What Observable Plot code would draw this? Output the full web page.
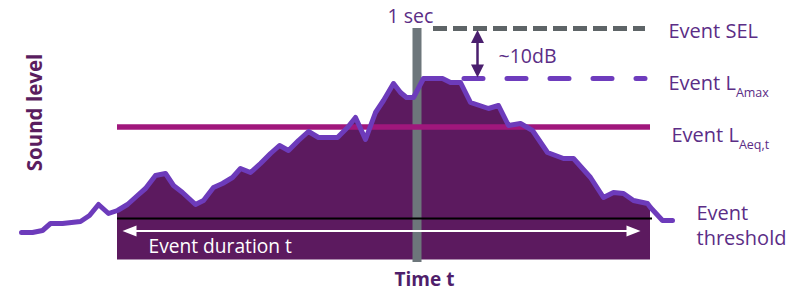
<!DOCTYPE html>
<html>
<head>
<meta charset="utf-8">
<script src="https://cdn.jsdelivr.net/npm/d3@7"></script>
<script src="https://cdn.jsdelivr.net/npm/@observablehq/plot@0.6"></script>
<style>
  html, body { margin: 0; padding: 0; background: #fff; }
  #chart svg { display: block; }
</style>
</head>
<body>
<div id="chart"></div>
<script>
// Sound level trace (time units, level in dB)
const curveTime  = [21, 32, 42, 50, 62, 80, 89, 98, 108, 117, 127, 137, 145, 155, 165, 173, 182, 195, 203, 213, 222, 232, 240, 250, 260, 270, 279, 288, 298, 308, 318, 337, 347, 355, 365, 375, 383, 393, 400, 406, 413, 423, 442, 450, 460, 470, 488, 498, 508, 520, 532, 547, 563, 573, 590, 603, 613, 623, 633, 647, 650, 662, 672];
const curveLevel = [12.2, 12.2, 12.6, 14.0, 14.0, 14.4, 15.6, 17.8, 16.0, 16.6, 17.8, 19.6, 21.0, 23.6, 24.0, 21.6, 20.2, 17.8, 18.6, 21.2, 22.0, 23.2, 25.0, 24.2, 26.0, 28.0, 29.6, 28.6, 30.6, 32.4, 31.2, 31.2, 33.2, 35.2, 30.8, 36.2, 38.6, 42.0, 40.2, 39.2, 39.2, 43.0, 43.0, 42.2, 42.2, 38.2, 37.0, 37.6, 33.6, 34.0, 32.6, 28.2, 27.0, 27.0, 23.2, 19.2, 20.2, 20.0, 18.6, 18.0, 17.2, 14.6, 14.6];

// Event window and levels
const eventTimes = [117, 650];          // start, end of event
const floorLevel = 6.7;                 // bottom of shaded event block
const oneSec = [412.5, 421.5];          // 1-second slice at LAmax
const oneSecLevels = [6.2, 53.0];
const refNames  = ["Event SEL", "Event L", "Event L", "Event\nthreshold"];
const refSubs   = ["", "Amax", "Aeq,t", ""];
const refLevels = [53.0, 43.0, 33.3, 15.0];
const durationLevel = 12.5;
const diffLabel = "~10dB";

const curve = curveTime.map((t, i) => ({t, level: curveLevel[i]}));
const eventCurve = curve.filter(d => d.t >= eventTimes[0] && d.t <= eventTimes[1]);

const FONT = "Open Sans";
const TXT = "#5b2d86";

// filled arrowhead with tip at origin, pointing up
const head = (len, half) => ({
  draw(ctx) { ctx.moveTo(0, 0); ctx.lineTo(-half, len); ctx.lineTo(half, len); ctx.closePath(); }
});

const labels = [
  {x: 668, y: 52.8, text: refNames[0], sub: refSubs[0]},
  {x: 668, y: 42.4, text: refNames[1], sub: refSubs[1]},
  {x: 671, y: 32.0, text: refNames[2], sub: refSubs[2]},
  {x: 696, y: 13.8, text: refNames[3], sub: refSubs[3]}
];

const chart = Plot.plot({
  width: 801,
  height: 293,
  margin: 0,
  x: {domain: [0, 801], axis: null},
  y: {domain: [0, 58.6], axis: null},
  marks: [
    // event block
    Plot.areaY(eventCurve, {x: "t", y1: floorLevel, y2: "level", fill: "#5c1a5f", curve: "linear"}),
    // 1 second bar
    Plot.rect([0], {x1: oneSec[0], x2: oneSec[1], y1: oneSecLevels[0], y2: oneSecLevels[1], fill: "#6d767b"}),
    // LAeq,t
    Plot.ruleY([refLevels[2]], {x1: eventTimes[0], x2: eventTimes[1], stroke: "#a0177c", strokeWidth: 5.5}),
    // threshold
    Plot.ruleY([refLevels[3]], {x1: eventTimes[0], x2: 652, stroke: "#000", strokeWidth: 2.2}),
    // duration arrow
    Plot.ruleY([durationLevel], {x1: 128, x2: 634, stroke: "#fff", strokeWidth: 2}),
    Plot.dot([{x: 122, r: -90}, {x: 640, r: 90}], {x: "x", y: durationLevel, rotate: "r", symbol: head(14, 5.5), fill: "#fff", stroke: "none", r: 5}),
    // SEL dashed
    Plot.ruleY([refLevels[0]], {x1: 433, x2: 645, stroke: "#5e6467", strokeWidth: 5, strokeDasharray: "14,6"}),
    // LAmax dashed
    Plot.ruleY([refLevels[1]], {x1: 464, x2: 645, stroke: "#6e3cbd", strokeWidth: 5, strokeDasharray: "19,24", strokeLinecap: "round"}),
    // ~10 dB double arrow
    Plot.ruleX([477], {y1: refLevels[0] - 2.4, y2: refLevels[1] + 2.4, stroke: "#4a1f6e", strokeWidth: 2.5}),
    Plot.dot([{y: refLevels[0] - 0.3, r: 0}, {y: refLevels[1] + 0.2, r: 180}], {x: 477, y: "y", rotate: "r", symbol: head(13, 6.5), fill: "#4a1f6e", stroke: "none", r: 5}),
    // sound level trace
    Plot.line(curve, {x: "t", y: "level", stroke: "#6d3bbb", strokeWidth: 5, strokeLinejoin: "round", strokeLinecap: "round"}),
    // texts
    Plot.text(labels, {x: "x", y: "y", text: "text", textAnchor: "start", fill: TXT, fontSize: 20, fontFamily: FONT, lineHeight: 1.25, className: "reflabels"}),
    Plot.text([diffLabel], {x: 498, y: 47.3, textAnchor: "start", fill: TXT, fontSize: 19.5, fontFamily: FONT}),
    Plot.text(["1 sec"], {x: 410, y: 55.3, fill: TXT, fontSize: 19.5, fontFamily: FONT}),
    Plot.text(["Event duration t"], {x: 148, y: 9.4, textAnchor: "start", fill: "#fff", fontSize: 19.2, fontFamily: FONT}),
    Plot.text(["Time t"], {x: 424, y: 2.7, fill: "#4f1e6b", fontSize: 19, fontWeight: "bold", fontFamily: FONT}),
    Plot.text(["Sound level"], {x: 35, y: 36.2, rotate: -90, fill: "#5a1d5f", fontSize: 20.5, fontWeight: "bold", fontFamily: FONT})
  ]
});

// subscripts
chart.querySelectorAll("g.reflabels text").forEach((el, i) => {
  const s = labels[i] && labels[i].sub;
  if (s) {
    const ts = document.createElementNS("http://www.w3.org/2000/svg", "tspan");
    ts.setAttribute("font-size", "12.5");
    ts.setAttribute("dy", "7");
    ts.textContent = s;
    el.appendChild(ts);
  }
});

document.getElementById("chart").appendChild(chart);
</script>
</body>
</html>
